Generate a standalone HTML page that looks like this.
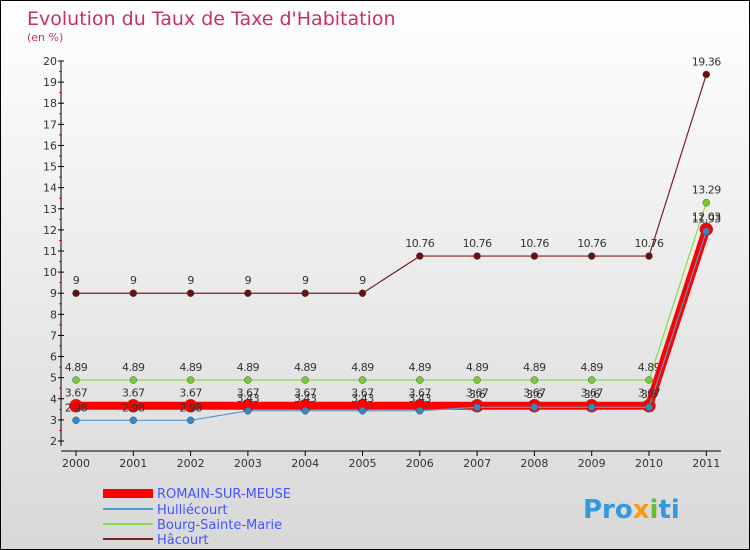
<!DOCTYPE html>
<html><head><meta charset="utf-8"><style>
body{margin:0}
#c{width:748px;height:548px;border:1px solid #000;background:linear-gradient(#fff,#d8d8d8);position:relative;font-family:"DejaVu Sans","Liberation Sans",sans-serif}
</style></head><body>
<div id="c">
<svg id="s" width="748" height="548" style="position:absolute;left:0;top:0">
<text x="26" y="24" font-size="19" fill="#c8325f">Evolution du Taux de Taxe d'Habitation</text>
<text x="26" y="40" font-size="11" fill="#c8325f">(en %)</text>
<g id="axes"></g><g id="series"></g>
<g>
<rect x="102" y="488" width="50" height="9" fill="#f00"/>
<text x="156" y="497" font-size="13" fill="#4455ff">ROMAIN-SUR-MEUSE</text>
<line x1="102" y1="508" x2="152" y2="508" stroke="#5599cc" stroke-width="2"/>
<text x="156" y="513" font-size="13" fill="#4455ff">Hulliécourt</text>
<line x1="102" y1="523" x2="152" y2="523" stroke="#88dd44" stroke-width="2"/>
<text x="156" y="528" font-size="13" fill="#4455ff">Bourg-Sainte-Marie</text>
<line x1="102" y1="538" x2="152" y2="538" stroke="#772222" stroke-width="2"/>
<text x="156" y="543" font-size="13" fill="#4455ff">Hâcourt</text>
</g>
<text x="582" y="517" font-size="26" font-weight="bold" fill="#3399dd">Pro<tspan fill="#f39c12">x</tspan><tspan fill="#66bb33">i</tspan>ti</text>
</svg>
</div>
<script>
const years=[2000,2001,2002,2003,2004,2005,2006,2007,2008,2009,2010,2011];
const romain=[3.67,3.67,3.67,3.67,3.67,3.67,3.67,3.67,3.67,3.67,3.67,12.03];
const hulli=[2.98,2.98,2.98,3.43,3.43,3.43,3.43,3.6,3.6,3.6,3.6,11.93];
const bourg=[4.89,4.89,4.89,4.89,4.89,4.89,4.89,4.89,4.89,4.89,4.89,13.29];
const hacourt=[9,9,9,9,9,9,10.76,10.76,10.76,10.76,10.76,19.36];
const yTicks=[2,3,4,5,6,7,8,9,10,11,12,13,14,15,16,17,18,19,20];
const NS="http://www.w3.org/2000/svg";
const X=i=>75+i*57.3, Y=v=>440-(v-2)*380/18;
function mk(p,t,a){const e=document.createElementNS(NS,t);for(const k in a)e.setAttribute(k,a[k]);p.appendChild(e);return e;}
const ax=document.getElementById('axes'),sg=document.getElementById('series');
let e=mk(ax,'line',{x1:60,y1:Y(20),x2:60,y2:445,stroke:'#000'});


e=mk(ax,'line',{x1:60,y1:450,x2:720,y2:450,stroke:'#000'});


yTicks.forEach(v=>{
 mk(ax,'line',{x1:57,y1:Y(v),x2:63,y2:Y(v),stroke:'#000'});
 if(v<20)mk(ax,'line',{x1:58,y1:Y(v+0.5),x2:61,y2:Y(v+0.5),stroke:'#f00'});
 const t=mk(ax,'text',{x:56,y:Y(v)+4,'font-size':11,'text-anchor':'end',fill:'#333'});t.textContent=v;
 
 
});
years.forEach((y,i)=>{
 mk(ax,'line',{x1:X(i),y1:450,x2:X(i),y2:455,stroke:'#000'});
 const t=mk(ax,'text',{x:X(i),y:466,'font-size':11,'text-anchor':'middle',fill:'#333'});t.textContent=y;
 
 
});
function series(d,col,w,r,name,mcol){
 const g=mk(sg,'g',{});
 
 
 mk(g,'polyline',{points:d.map((v,i)=>X(i)+','+Y(v)).join(' '),fill:'none',stroke:col,'stroke-width':w});
 d.forEach((v,i)=>{
  const c=mk(g,'circle',{cx:X(i),cy:Y(v),r:r,fill:mcol||col,stroke:'#555','stroke-width':0.5});
  
  
  const t=mk(g,'text',{x:X(i),y:Y(v)-9,'font-size':11,'text-anchor':'middle',fill:'#333','letter-spacing':'-0.5'});t.textContent=v;
  
  
 });
}
series(hacourt,'#772222',1.2,3.5,'series-hacourt','#661111');
series(bourg,'#88dd44',1.2,3.5,'series-bourg','#77cc33');
series(romain,'#f00',8,6.5,'series-romain');
series(hulli,'#5599cc',1.2,3.5,'series-hulliecourt','#3388cc');
</script>
</body></html>
